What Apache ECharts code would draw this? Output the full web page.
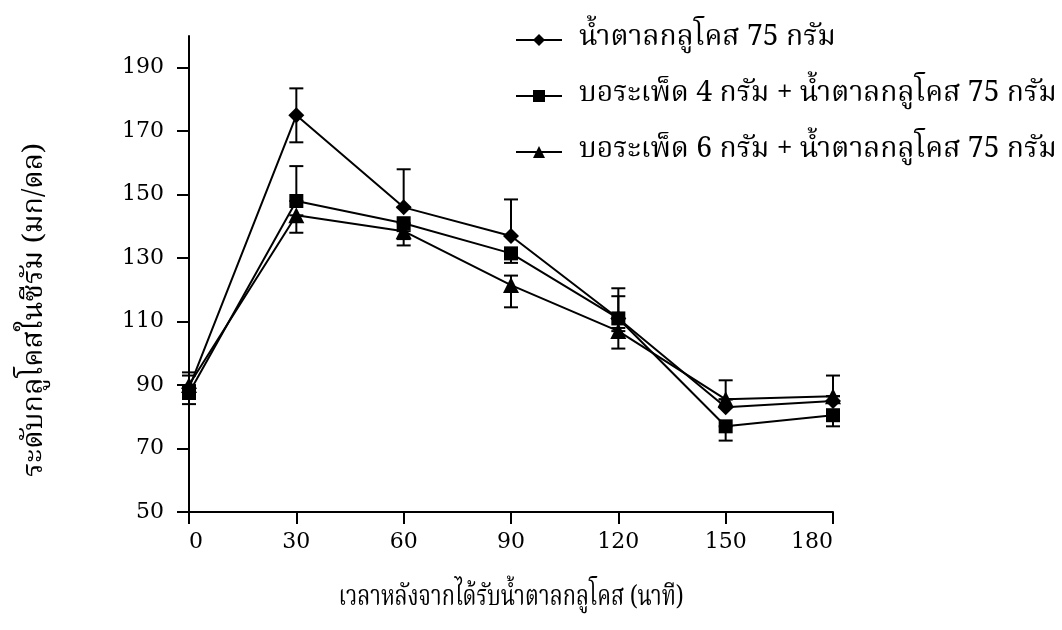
<!DOCTYPE html>
<html>
<head>
<meta charset="utf-8">
<script src="https://cdn.jsdelivr.net/npm/echarts@6/dist/echarts.min.js"></script>
<style>
  html, body { margin: 0; padding: 0; background: #ffffff; }
  #chart { width: 1062px; height: 630px; }
</style>
</head>
<body>
<div id="chart"></div>
<script>
// Sampling times after the glucose load (minutes)
const minutes = [0, 30, 60, 90, 120, 150, 180];
const yTicks = [50, 70, 90, 110, 130, 150, 170, 190];

const seriesNames = [
  'น้ำตาลกลูโคส 75 กรัม',
  'บอระเพ็ด 4 กรัม + น้ำตาลกลูโคส 75 กรัม',
  'บอระเพ็ด 6 กรัม + น้ำตาลกลูโคส 75 กรัม'
];

// Mean serum glucose (mg/dL) per group
const glucoseOnly = [89, 175, 146, 137, 111, 83, 85];
const borapet4g   = [87.5, 148, 141, 131.5, 111, 77, 80.5];
const borapet6g   = [90, 143.5, 138.5, 121.5, 107, 85.5, 86.5];

// Error bar ends (mg/dL) for each group
const glucoseOnlyLow  = [89, 166.5, 146, 137, 111, 83, 85];
const glucoseOnlyHigh = [93, 183.5, 158, 148.5, 120.5, 91.5, 93];
const borapet4gLow    = [84, 148, 136, 128.5, 108, 72.5, 77];
const borapet4gHigh   = [87.5, 159, 141, 131.5, 118, 77, 80.5];
const borapet6gLow    = [90, 138, 134, 114.5, 101.5, 85.5, 86.5];
const borapet6gHigh   = [94, 143.5, 138.5, 124.5, 107, 85.5, 86.5];

const xTitle = 'เวลาหลังจากได้รับน้ำตาลกลูโคส (นาที)';
const yTitle = 'ระดับกลูโคสในซีรัม (มก/ดล)';

const thaiFont = '"Noto Serif Thai", "Norasi", "Loma", "Garuda", "Noto Sans Thai", "Noto Sans", sans-serif';
const numFont = '"DejaVu Serif", "Liberation Serif", serif';

// Horizontal stretch so a title spans the wanted width
function stretchFor(text, size, width) {
  const ctx = document.createElement('canvas').getContext('2d');
  ctx.font = size + 'px ' + thaiFont;
  const w = ctx.measureText(text).width;
  return w > 0 ? width / w : 1;
}

const chart = echarts.init(document.getElementById('chart'), null, { renderer: 'canvas' });

function pairs(values) {
  return minutes.map((m, i) => [m, values[i]]);
}
function bars(low, high) {
  return minutes.map((m, i) => [m, low[i], high[i]]);
}

// Vertical error bar with a short cap at each end
function renderErrorBar(params, api) {
  const x = api.value(0);
  const lo = api.coord([x, api.value(1)]);
  const hi = api.coord([x, api.value(2)]);
  const cap = 7;
  const style = { stroke: '#000', lineWidth: 2, fill: null };
  return {
    type: 'group',
    children: [
      { type: 'line', shape: { x1: lo[0], y1: lo[1], x2: hi[0], y2: hi[1] }, style },
      { type: 'line', shape: { x1: hi[0] - cap, y1: hi[1], x2: hi[0] + cap, y2: hi[1] }, style },
      { type: 'line', shape: { x1: lo[0] - cap, y1: lo[1], x2: lo[0] + cap, y2: lo[1] }, style }
    ]
  };
}

const groups = [
  { name: seriesNames[0], values: glucoseOnly, low: glucoseOnlyLow, high: glucoseOnlyHigh, symbol: 'diamond', size: 16 },
  { name: seriesNames[1], values: borapet4g,   low: borapet4gLow,   high: borapet4gHigh,   symbol: 'rect',    size: 14 },
  { name: seriesNames[2], values: borapet6g,   low: borapet6gLow,   high: borapet6gHigh,   symbol: 'triangle', size: 16 }
];

const series = [];
groups.forEach(g => {
  series.push({
    type: 'custom',
    name: g.name + ' SD',
    renderItem: renderErrorBar,
    data: bars(g.low, g.high),
    encode: { x: 0, y: [1, 2] },
    z: 1,
    silent: true
  });
});
groups.forEach(g => {
  series.push({
    type: 'line',
    name: g.name,
    data: pairs(g.values),
    symbol: g.symbol,
    symbolSize: g.size,
    showAllSymbol: true,
    lineStyle: { color: '#000', width: 2 },
    itemStyle: { color: '#000', borderWidth: 0 },
    z: 3
  });
});

const titleSize = 28;
const xStretch = stretchFor(xTitle, titleSize, 345);
const yStretch = stretchFor(yTitle, titleSize, 334);

const option = {
  backgroundColor: '#ffffff',
  animation: false,
  grid: { left: 189, right: 229, top: 36, bottom: 118, containLabel: false },
  legend: {
    data: seriesNames,
    orient: 'vertical',
    left: 510,
    top: 20,
    itemWidth: 46,
    itemHeight: 15,
    itemGap: 26,
    textStyle: { fontFamily: thaiFont, fontSize: 28.3, lineHeight: 30, color: '#000', padding: [0, 0, 0, 12] }
  },
  xAxis: {
    type: 'value',
    min: 0,
    max: 180,
    interval: 30,
    splitLine: { show: false },
    axisLine: { onZero: false, lineStyle: { color: '#000', width: 2 } },
    axisTick: { show: true, inside: false, length: 12, lineStyle: { color: '#000', width: 2 } },
    axisLabel: {
      margin: 19, fontFamily: numFont, fontSize: 22, color: '#000',
      alignMinLabel: 'left', alignMaxLabel: 'right'
    }
  },
  yAxis: {
    type: 'value',
    min: 50,
    max: 200,
    splitLine: { show: false },
    axisLine: { onZero: false, lineStyle: { color: '#000', width: 2 } },
    axisTick: { show: true, length: 12, customValues: yTicks, lineStyle: { color: '#000', width: 2 } },
    axisLabel: { margin: 25, customValues: yTicks, fontFamily: numFont, fontSize: 22, color: '#000' }
  },
  graphic: [
    {
      type: 'text',
      x: 511,
      y: 600,
      scaleX: xStretch,
      style: { text: xTitle, fontFamily: thaiFont, fontSize: titleSize, fill: '#000', align: 'center', verticalAlign: 'middle' }
    },
    {
      type: 'text',
      x: 37,
      y: 310,
      rotation: Math.PI / 2,
      scaleX: yStretch,
      style: { text: yTitle, fontFamily: thaiFont, fontSize: titleSize, fill: '#000', align: 'center', verticalAlign: 'middle' }
    }
  ],
  series: series
};

chart.setOption(option);
</script>
</body>
</html>
